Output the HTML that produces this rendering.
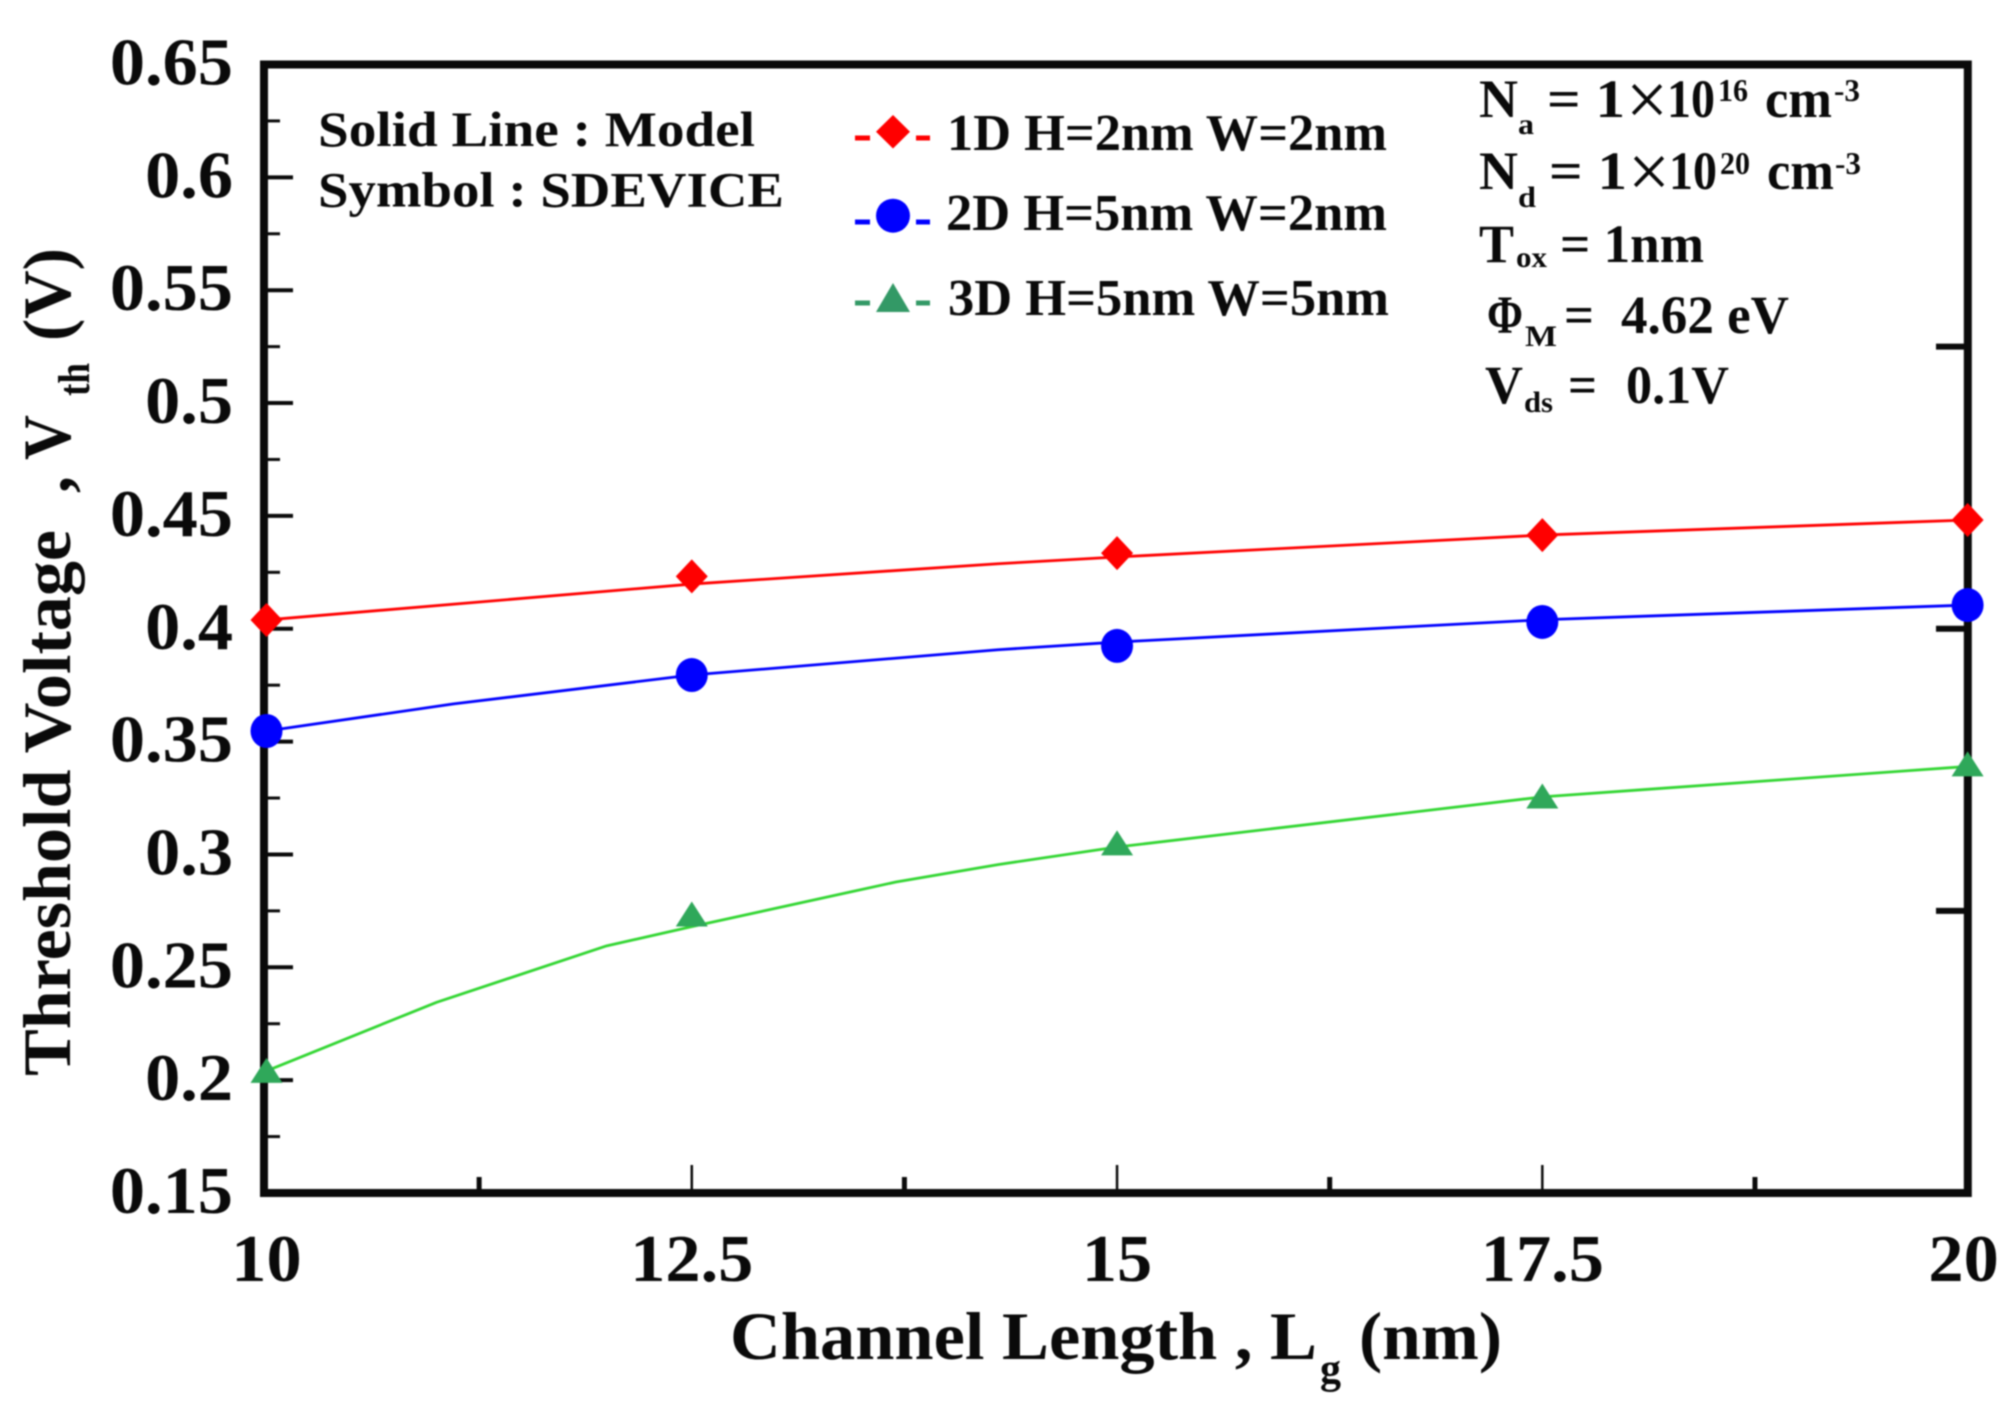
<!DOCTYPE html>
<html lang="en">
<head>
<meta charset="utf-8">
<title>Threshold Voltage vs Channel Length</title>
<style>
html,body{margin:0;padding:0;background:#fff;}
svg{display:block;filter:blur(0.9px);}
text{font-family:"Liberation Serif",serif;font-weight:bold;fill:#0a0a0a;}
</style>
</head>
<body>
<svg id="chart" xmlns="http://www.w3.org/2000/svg" width="2015" height="1419" viewBox="0 0 2015 1419">
  <rect x="0" y="0" width="2015" height="1419" fill="#fff"/>
  <g id="plot"></g>

  <g>
    <text transform="translate(70,1076) rotate(-90)" font-size="68" textLength="546" lengthAdjust="spacingAndGlyphs">Threshold Voltage</text>
    <text transform="translate(70,493) rotate(-90)" font-size="68">,</text>
    <text transform="translate(70,460) rotate(-90)" font-size="68" textLength="45" lengthAdjust="spacingAndGlyphs">V</text>
    <text transform="translate(89,396) rotate(-90)" font-size="44" textLength="33" lengthAdjust="spacingAndGlyphs">th</text>
    <text transform="translate(70,341) rotate(-90)" font-size="68" textLength="93" lengthAdjust="spacingAndGlyphs">(V)</text>
  </g>
  <g>
    <text x="730" y="1359" font-size="68" textLength="587" lengthAdjust="spacingAndGlyphs">Channel Length , L</text>
    <text x="1320" y="1383" font-size="42" textLength="21" lengthAdjust="spacingAndGlyphs">g</text>
    <text x="1359" y="1359" font-size="68" textLength="143" lengthAdjust="spacingAndGlyphs">(nm)</text>
  </g>

  <g>
    <text x="318" y="146" font-size="50" textLength="437" lengthAdjust="spacingAndGlyphs">Solid Line : Model</text>
    <text x="318" y="206.5" font-size="50" textLength="466" lengthAdjust="spacingAndGlyphs">Symbol : SDEVICE</text>
  </g>

  <g>
    <g>
      <rect x="855" y="135.5" width="15" height="5" fill="#ff0000"/>
      <rect x="916" y="135.5" width="14" height="5" fill="#ff0000"/>
      <polygon points="893,115 910,131.7 893,148.5 876,131.7" fill="#ff0000"/>
      <text x="947" y="150" font-size="52" textLength="440" lengthAdjust="spacingAndGlyphs">1D H=2nm W=2nm</text>
    </g>
    <g>
      <rect x="855" y="219.5" width="15" height="5" fill="#0000ff"/>
      <rect x="916" y="219.5" width="14" height="5" fill="#0000ff"/>
      <circle cx="893" cy="215.7" r="17" fill="#0000ff"/>
      <text x="946" y="230" font-size="52" textLength="441" lengthAdjust="spacingAndGlyphs">2D H=5nm W=2nm</text>
    </g>
    <g>
      <rect x="855" y="300.5" width="15" height="5" fill="#339966"/>
      <rect x="916" y="300.5" width="14" height="5" fill="#339966"/>
      <polygon points="893,283 910,312 876,312" fill="#339966"/>
      <text x="948" y="315" font-size="52" textLength="441" lengthAdjust="spacingAndGlyphs">3D H=5nm W=5nm</text>
    </g>
  </g>

  <g>
    <g>
      <text x="1479" y="117" font-size="54" textLength="39" lengthAdjust="spacingAndGlyphs">N</text>
      <text x="1518" y="134" font-size="30" textLength="16" lengthAdjust="spacingAndGlyphs">a</text>
      <text x="1547" y="117" font-size="54" textLength="78" lengthAdjust="spacingAndGlyphs">= 1</text>
      <text x="1626" y="125" font-size="76" style="font-weight:normal" textLength="42" lengthAdjust="spacingAndGlyphs">×</text>
      <text x="1667" y="117" font-size="54" textLength="48" lengthAdjust="spacingAndGlyphs">10</text>
      <text x="1718" y="101" font-size="32" textLength="30" lengthAdjust="spacingAndGlyphs">16</text>
      <text x="1765" y="117" font-size="54" textLength="67" lengthAdjust="spacingAndGlyphs">cm</text>
      <text x="1834" y="101" font-size="32" textLength="26" lengthAdjust="spacingAndGlyphs">-3</text>
    </g>
    <g>
      <text x="1479" y="189" font-size="54" textLength="39" lengthAdjust="spacingAndGlyphs">N</text>
      <text x="1518" y="207" font-size="30" textLength="18" lengthAdjust="spacingAndGlyphs">d</text>
      <text x="1549" y="189" font-size="54" textLength="78" lengthAdjust="spacingAndGlyphs">= 1</text>
      <text x="1628" y="197" font-size="76" style="font-weight:normal" textLength="42" lengthAdjust="spacingAndGlyphs">×</text>
      <text x="1669" y="189" font-size="54" textLength="48" lengthAdjust="spacingAndGlyphs">10</text>
      <text x="1720" y="174" font-size="32" textLength="30" lengthAdjust="spacingAndGlyphs">20</text>
      <text x="1767" y="189" font-size="54" textLength="67" lengthAdjust="spacingAndGlyphs">cm</text>
      <text x="1835" y="174" font-size="32" textLength="26" lengthAdjust="spacingAndGlyphs">-3</text>
    </g>
    <g>
      <text x="1479" y="262" font-size="54" textLength="35" lengthAdjust="spacingAndGlyphs">T</text>
      <text x="1516" y="267" font-size="30" textLength="31" lengthAdjust="spacingAndGlyphs">ox</text>
      <text x="1560" y="262" font-size="54" textLength="144" lengthAdjust="spacingAndGlyphs">= 1nm</text>
    </g>
    <g>
      <text x="1487" y="333" font-size="54" textLength="36" lengthAdjust="spacingAndGlyphs">Φ</text>
      <text x="1525" y="346" font-size="30" textLength="32" lengthAdjust="spacingAndGlyphs">M</text>
      <text x="1564" y="333" font-size="54" textLength="30" lengthAdjust="spacingAndGlyphs">=</text>
      <text x="1621" y="333" font-size="54" textLength="168" lengthAdjust="spacingAndGlyphs">4.62 eV</text>
    </g>
    <g>
      <text x="1485" y="403" font-size="54" textLength="38" lengthAdjust="spacingAndGlyphs">V</text>
      <text x="1524" y="412" font-size="30" textLength="29" lengthAdjust="spacingAndGlyphs">ds</text>
      <text x="1568" y="403" font-size="54" textLength="29" lengthAdjust="spacingAndGlyphs">=</text>
      <text x="1626" y="403" font-size="54" textLength="103" lengthAdjust="spacingAndGlyphs">0.1V</text>
    </g>
  </g>
</svg>

<script>
// Chart data
const xCategories = [10, 12.5, 15, 17.5, 20];
const symbols1D = [0.4039, 0.4232, 0.4335, 0.4415, 0.4482];
const symbols2D = [0.3547, 0.3795, 0.3924, 0.403, 0.4105];
const symbols3D = [0.2041, 0.2734, 0.3049, 0.3257, 0.3399];

const modelX1D = [10, 12.5, 14.3, 15, 17.5, 20];
const model1D = [0.4039, 0.4198, 0.4288, 0.4318, 0.4415, 0.4482];
const modelX2D = [10, 11.1, 12.5, 14.3, 15, 17.5, 20];
const model2D = [0.3547, 0.3667, 0.3795, 0.3907, 0.3941, 0.404, 0.4105];
const modelX3D = [10, 11, 12, 12.5, 13.7, 14.3, 15, 17.5, 20];
const model3D = [0.2041, 0.2345, 0.2595, 0.268, 0.2878, 0.2955, 0.3033, 0.3255, 0.339];

const yTickValues = [0.65, 0.6, 0.55, 0.5, 0.45, 0.4, 0.35, 0.3, 0.25, 0.2, 0.15];
const yTickLabels = ['0.65', '0.6', '0.55', '0.5', '0.45', '0.4', '0.35', '0.3', '0.25', '0.2', '0.15'];
const yMinorTicks = [0.625, 0.575, 0.525, 0.475, 0.425, 0.375, 0.325, 0.275, 0.225, 0.175];
const yRightTicks = [0.525, 0.4, 0.275];
const xTickLabels = ['10', '12.5', '15', '17.5', '20'];
const xMinorTicks = [11.25, 13.75, 16.25, 18.75];

const NS = 'http://www.w3.org/2000/svg';
const plot = document.getElementById('plot');

function xScale(v) { return 266.5 + (v - 10) * 170.11; }
function yScale(v) { return 1193 - (v - 0.15) * 2257; }

function make(tag, attrs) {
  const el = document.createElementNS(NS, tag);
  for (const k in attrs) el.setAttribute(k, attrs[k]);
  plot.appendChild(el);
  return el;
}

function stretch(t) {
  t.setAttribute('textLength', t.getComputedTextLength() * 1.05);
  t.setAttribute('lengthAdjust', 'spacingAndGlyphs');
}

function drawTick(x1, y1, x2, y2, width, name) {
  const el = make('line', { x1: x1, y1: y1, x2: x2, y2: y2, stroke: '#0a0a0a', 'stroke-width': width });
  
  
}

yTickValues.forEach(function (v) {
  drawTick(264, yScale(v), 293, yScale(v), 4, 'y-major-tick');
});
yMinorTicks.forEach(function (v) {
  drawTick(264, yScale(v), 280, yScale(v), 3, 'y-minor-tick');
});
yRightTicks.forEach(function (v) {
  drawTick(1936, yScale(v), 1968, yScale(v), 6, 'y-right-tick');
});
xCategories.slice(1, 4).forEach(function (v) {
  drawTick(xScale(v), 1193, xScale(v), 1165, 2.5, 'x-major-tick');
});
xMinorTicks.forEach(function (v) {
  drawTick(xScale(v), 1193, xScale(v), 1177, 5, 'x-minor-tick');
});

const frame = make('rect', { x: 264, y: 64.5, width: 1703.8, height: 1128.5, fill: 'none', stroke: '#0a0a0a', 'stroke-width': 8 });



yTickValues.forEach(function (v, i) {
  const t = make('text', { x: 233, y: yScale(v) + 20, 'font-size': 67, 'text-anchor': 'end' });
  
  
  t.textContent = yTickLabels[i];
  stretch(t);
});
xCategories.forEach(function (v, i) {
  const t = make('text', { x: xScale(v) - (i === 4 ? 4 : 0), y: 1281, 'font-size': 67, 'text-anchor': 'middle' });
  
  
  t.textContent = xTickLabels[i];
  stretch(t);
});

function drawModel(xs, ys, color, name) {
  const pts = xs.map(function (x, i) { return xScale(x) + ',' + yScale(ys[i]); }).join(' ');
  const el = make('polyline', { points: pts, fill: 'none', stroke: color, 'stroke-width': 2.8, 'stroke-linejoin': 'round' });
  
  
}
drawModel(modelX1D, model1D, '#ff0000', 'model-line-1d');
drawModel(modelX2D, model2D, '#0000ff', 'model-line-2d');
drawModel(modelX3D, model3D, '#33d633', 'model-line-3d');

symbols1D.forEach(function (v, i) {
  const cx = xScale(xCategories[i]), cy = yScale(v);
  const el = make('polygon', { points: (cx) + ',' + (cy - 17) + ' ' + (cx + 16) + ',' + cy + ' ' + (cx) + ',' + (cy + 17) + ' ' + (cx - 16) + ',' + cy, fill: '#ff0000' });
  
  
});
symbols2D.forEach(function (v, i) {
  const el = make('ellipse', { cx: xScale(xCategories[i]), cy: yScale(v), rx: 16, ry: 17, fill: '#0000ff' });
  
  
});
symbols3D.forEach(function (v, i) {
  const cx = xScale(xCategories[i]), cy = yScale(v);
  const el = make('polygon', { points: cx + ',' + (cy - 13) + ' ' + (cx + 16) + ',' + (cy + 12) + ' ' + (cx - 16) + ',' + (cy + 12), fill: '#2fa85a' });
  
  
});
</script>
</body>
</html>
